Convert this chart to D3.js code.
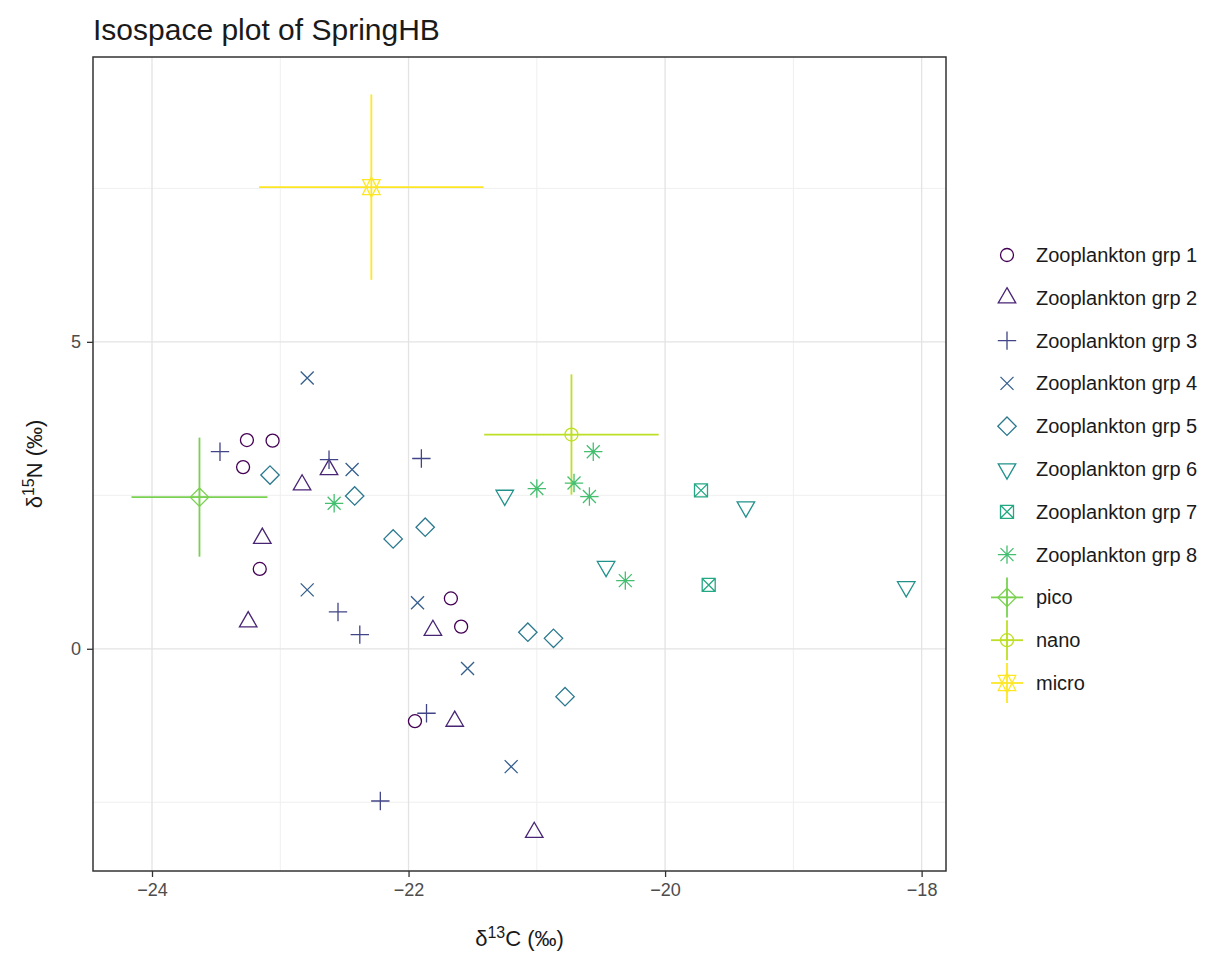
<!DOCTYPE html>
<html>
<head>
<meta charset="utf-8">
<script src="https://cdn.jsdelivr.net/npm/d3@7"></script>
<style>
  body { margin: 0; background: #fff; }
  text { font-family: "Liberation Sans", Arial, sans-serif; }
</style>
</head>
<body>
<div class="container"></div>
<script>
// consumer data: [d13C, d15N]
const grp1 = [[-23.26, 3.40], [-23.06, 3.39], [-23.29, 2.96], [-23.16, 1.30], [-21.67, 0.82], [-21.59, 0.36], [-21.95, -1.18]];
const grp2 = [[-22.83, 2.67], [-22.62, 2.92], [-23.14, 1.80], [-23.25, 0.44], [-21.81, 0.30], [-21.64, -1.18], [-21.02, -2.99]];
const grp3 = [[-23.47, 3.21], [-22.62, 3.08], [-21.90, 3.10], [-22.55, 0.60], [-22.38, 0.23], [-21.86, -1.05], [-22.22, -2.48]];
const grp4 = [[-22.79, 4.41], [-22.44, 2.92], [-22.79, 0.96], [-21.93, 0.75], [-21.54, -0.32], [-21.20, -1.92]];
const grp5 = [[-23.08, 2.83], [-22.42, 2.49], [-21.87, 1.98], [-22.12, 1.79], [-21.07, 0.27], [-20.87, 0.17], [-20.78, -0.78]];
const grp6 = [[-21.25, 2.50], [-20.46, 1.34], [-19.37, 2.31], [-18.12, 1.01]];
const grp7 = [[-19.72, 2.58], [-19.66, 1.04]];
const grp8 = [[-22.58, 2.37], [-21.00, 2.61], [-20.71, 2.70], [-20.59, 2.48], [-20.56, 3.21], [-20.31, 1.11]];

// source means and sd
const sourceNames = ['pico', 'nano', 'micro'];
const sourceMeanC = [-23.63, -20.73, -22.29];
const sourceSdC = [0.53, 0.68, 0.875];
const sourceMeanN = [2.47, 3.49, 7.52];
const sourceSdN = [0.97, 0.98, 1.51];

const groupNames = ['Zooplankton grp 1', 'Zooplankton grp 2', 'Zooplankton grp 3', 'Zooplankton grp 4',
    'Zooplankton grp 5', 'Zooplankton grp 6', 'Zooplankton grp 7', 'Zooplankton grp 8'];
const consumers = [grp1, grp2, grp3, grp4, grp5, grp6, grp7, grp8];

const xTicks = [-24, -22, -20, -18];
const yTicks = [0, 5];

const width = 1227, height = 956;
const panel = {left: 93, right: 946, top: 57, bottom: 871};

const legendNames = groupNames.concat(sourceNames);
const colors = legendNames.map((d, i) => d3.interpolateViridis(i / (legendNames.length - 1)));

const x = d3.scaleLinear().domain([-24.46, -17.81]).range([panel.left, panel.right]);
const y = d3.scaleLinear().domain([-3.62, 9.64]).range([panel.bottom, panel.top]);

// R pch shapes 1..11, R = radius
const R = 6.5;
function shapePath(k) {
    const p = d3.path();
    const s2 = Math.SQRT2 * R;
    const t0 = 1.5551 * R, t1 = 1.3468 * R, t2 = 0.7776 * R;
    switch (k) {
        case 0: p.moveTo(R, 0); p.arc(0, 0, R, 0, 2 * Math.PI); break;
        case 1: p.moveTo(0, -t0); p.lineTo(t1, t2); p.lineTo(-t1, t2); p.closePath(); break;
        case 2: p.moveTo(-s2, 0); p.lineTo(s2, 0); p.moveTo(0, -s2); p.lineTo(0, s2); break;
        case 3: p.moveTo(-R, -R); p.lineTo(R, R); p.moveTo(-R, R); p.lineTo(R, -R); break;
        case 4: p.moveTo(0, -s2); p.lineTo(s2, 0); p.lineTo(0, s2); p.lineTo(-s2, 0); p.closePath(); break;
        case 5: p.moveTo(0, t0); p.lineTo(t1, -t2); p.lineTo(-t1, -t2); p.closePath(); break;
        case 6: p.rect(-R, -R, 2 * R, 2 * R); p.moveTo(-R, -R); p.lineTo(R, R); p.moveTo(-R, R); p.lineTo(R, -R); break;
        case 7: p.moveTo(-R, -R); p.lineTo(R, R); p.moveTo(-R, R); p.lineTo(R, -R);
            p.moveTo(-s2, 0); p.lineTo(s2, 0); p.moveTo(0, -s2); p.lineTo(0, s2); break;
        case 8: p.moveTo(0, -s2); p.lineTo(s2, 0); p.lineTo(0, s2); p.lineTo(-s2, 0); p.closePath();
            p.moveTo(-s2, 0); p.lineTo(s2, 0); p.moveTo(0, -s2); p.lineTo(0, s2); break;
        case 9: p.moveTo(R, 0); p.arc(0, 0, R, 0, 2 * Math.PI);
            p.moveTo(-R, 0); p.lineTo(R, 0); p.moveTo(0, -R); p.lineTo(0, R); break;
        case 10: {
            const yc = 0.5 * (t2 + t0);
            p.moveTo(0, -t0); p.lineTo(t1, yc); p.lineTo(-t1, yc); p.closePath();
            p.moveTo(0, t0); p.lineTo(t1, -yc); p.lineTo(-t1, -yc); p.closePath();
            break;
        }
    }
    return p.toString();
}

const svg = d3.select('.container')
    .append('svg')
    .attr('width', width)
    .attr('height', height);

// gridlines
const grid = svg.append('g').attr('class', 'grid');
const xMinor = [-23, -21, -19];
const yMinor = [-2.5, 2.5, 7.5];
grid.selectAll('.xminor').data(xMinor).enter().append('line')
    .attr('x1', d => x(d)).attr('x2', d => x(d))
    .attr('y1', panel.top).attr('y2', panel.bottom)
    .attr('stroke', '#efefef').attr('stroke-width', 1);
grid.selectAll('.yminor').data(yMinor).enter().append('line')
    .attr('y1', d => y(d)).attr('y2', d => y(d))
    .attr('x1', panel.left).attr('x2', panel.right)
    .attr('stroke', '#efefef').attr('stroke-width', 1);
grid.selectAll('.xmajor').data(xTicks).enter().append('line')
    .attr('x1', d => x(d)).attr('x2', d => x(d))
    .attr('y1', panel.top).attr('y2', panel.bottom)
    .attr('stroke', '#e3e3e3').attr('stroke-width', 1.3);
grid.selectAll('.ymajor').data(yTicks).enter().append('line')
    .attr('y1', d => y(d)).attr('y2', d => y(d))
    .attr('x1', panel.left).attr('x2', panel.right)
    .attr('stroke', '#e3e3e3').attr('stroke-width', 1.3);

// source error bars
const src = svg.append('g').attr('class', 'sources');
sourceNames.forEach((name, i) => {
    const c = colors[8 + i];
    src.append('line')
        .attr('x1', x(sourceMeanC[i] - sourceSdC[i])).attr('x2', x(sourceMeanC[i] + sourceSdC[i]))
        .attr('y1', y(sourceMeanN[i])).attr('y2', y(sourceMeanN[i]))
        .attr('stroke', c).attr('stroke-width', 1.8);
    src.append('line')
        .attr('x1', x(sourceMeanC[i])).attr('x2', x(sourceMeanC[i]))
        .attr('y1', y(sourceMeanN[i] - sourceSdN[i])).attr('y2', y(sourceMeanN[i] + sourceSdN[i]))
        .attr('stroke', c).attr('stroke-width', 1.8);
});

// consumer points
const pts = svg.append('g').attr('class', 'points');
consumers.forEach((data, k) => {
    pts.selectAll('.g' + k)
        .data(data)
        .enter().append('path')
        .attr('transform', d => `translate(${x(d[0])},${y(d[1])})`)
        .attr('d', shapePath(k))
        .attr('fill', 'none')
        .attr('stroke', colors[k])
        .attr('stroke-width', 1.3);
});

// source points
sourceNames.forEach((name, i) => {
    src.append('path')
        .attr('transform', `translate(${x(sourceMeanC[i])},${y(sourceMeanN[i])})`)
        .attr('d', shapePath(8 + i))
        .attr('fill', 'none')
        .attr('stroke', colors[8 + i])
        .attr('stroke-width', 1.3);
});

// panel border
svg.append('rect')
    .attr('x', panel.left).attr('y', panel.top)
    .attr('width', panel.right - panel.left).attr('height', panel.bottom - panel.top)
    .attr('fill', 'none').attr('stroke', '#333').attr('stroke-width', 1.5);

// axes
const xAxis = svg.append('g')
    .attr('transform', `translate(0,${panel.bottom})`)
    .call(d3.axisBottom(x).tickValues(xTicks).tickSize(6).tickPadding(6).tickFormat(d3.format('d')));
const yAxis = svg.append('g')
    .attr('transform', `translate(${panel.left},0)`)
    .call(d3.axisLeft(y).tickValues(yTicks).tickSize(6).tickPadding(6).tickFormat(d3.format('d')));
[xAxis, yAxis].forEach(a => {
    a.select('.domain').remove();
    a.selectAll('.tick line').attr('stroke', '#333').attr('stroke-width', 1.3);
    a.selectAll('.tick text')
        .attr('fill', '#4d4d4d')
        .style('font-size', '18px')
        .style('font-family', '"Liberation Sans", Arial, sans-serif');
});

// title
svg.append('text')
    .attr('x', 93).attr('y', 40)
    .style('font-size', '30px')
    .attr('fill', '#1a1a1a')
    .text('Isospace plot of SpringHB');

// axis titles
const xt = svg.append('text')
    .attr('x', (panel.left + panel.right) / 2).attr('y', 946)
    .attr('text-anchor', 'middle')
    .style('font-size', '22px')
    .attr('fill', '#1a1a1a');
xt.append('tspan').text('δ');
xt.append('tspan').attr('dy', -8).style('font-size', '16px').text('13');
xt.append('tspan').attr('dy', 8).text('C (‰)');

const yt = svg.append('text')
    .attr('transform', `translate(42,${(panel.top + panel.bottom) / 2}) rotate(-90)`)
    .attr('text-anchor', 'middle')
    .style('font-size', '22px')
    .attr('fill', '#1a1a1a');
yt.append('tspan').text('δ');
yt.append('tspan').attr('dy', -8).style('font-size', '16px').text('15');
yt.append('tspan').attr('dy', 8).text('N (‰)');

// legend
const legend = svg.append('g').attr('class', 'legend');
legendNames.forEach((name, i) => {
    const ly = 255 + i * 42.8;
    const g = legend.append('g').attr('transform', `translate(1007,${ly})`);
    if (i >= 8) {
        g.append('line').attr('x1', -16).attr('x2', 16).attr('y1', 0).attr('y2', 0)
            .attr('stroke', colors[i]).attr('stroke-width', 1.8);
        g.append('line').attr('x1', 0).attr('x2', 0).attr('y1', -20).attr('y2', 20)
            .attr('stroke', colors[i]).attr('stroke-width', 1.8);
    }
    g.append('path')
        .attr('d', shapePath(i))
        .attr('fill', 'none')
        .attr('stroke', colors[i])
        .attr('stroke-width', 1.3);
    legend.append('text')
        .attr('x', 1036).attr('y', ly + 7)
        .style('font-size', '20px')
        .attr('fill', '#1a1a1a')
        .text(name);
});
</script>
</body>
</html>
